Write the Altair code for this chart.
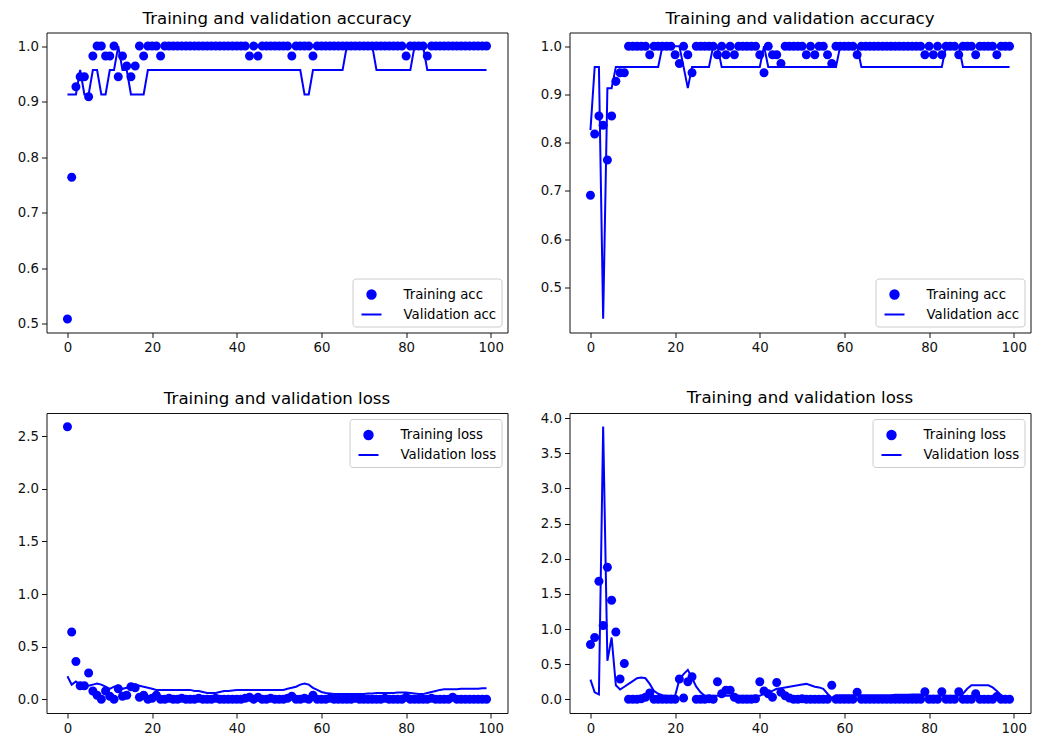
import altair as alt
import pandas as pd

EPOCHS = list(range(100))

TL_TRAIN = [0.509, 0.764, 0.927, 0.945, 0.945, 0.909, 0.982, 1, 1, 0.982,
            0.982, 1, 0.945, 0.982, 0.964, 0.945, 0.964, 1, 0.982, 1,
            1, 1, 0.982, 1, 1, 1, 1, 1, 1, 1,
            1, 1, 1, 1, 1, 1, 1, 1, 1, 1,
            1, 1, 1, 0.982, 1, 0.982, 1, 1, 1, 1,
            1, 1, 1, 0.982, 1, 1, 1, 1, 0.982, 1,
            1, 1, 1, 1, 1, 1, 1, 1, 1, 1,
            1, 1, 1, 1, 1, 1, 1, 1, 1, 1,
            0.982, 1, 1, 1, 1, 0.982, 1, 1, 1, 1,
            1, 1, 1, 1, 1, 1, 1, 1, 1, 1]
TL_VAL = [0.913, 0.913, 0.913, 0.957, 0.913, 0.913, 0.957, 0.957, 0.913, 0.913,
          0.957, 0.957, 1, 0.957, 0.957, 0.913, 0.913, 0.913, 0.913, 0.957,
          0.957, 0.957, 0.957, 0.957, 0.957, 0.957, 0.957, 0.957, 0.957, 0.957,
          0.957, 0.957, 0.957, 0.957, 0.957, 0.957, 0.957, 0.957, 0.957, 0.957,
          0.957, 0.957, 0.957, 0.957, 0.957, 0.957, 0.957, 0.957, 0.957, 0.957,
          0.957, 0.957, 0.957, 0.957, 0.957, 0.957, 0.913, 0.913, 0.957, 0.957,
          0.957, 0.957, 0.957, 0.957, 0.957, 0.957, 1, 1, 1, 1,
          1, 1, 1, 0.957, 0.957, 0.957, 0.957, 0.957, 0.957, 0.957,
          0.957, 0.957, 1, 1, 1, 0.957, 0.957, 0.957, 0.957, 0.957,
          0.957, 0.957, 0.957, 0.957, 0.957, 0.957, 0.957, 0.957, 0.957, 0.957]

TR_TRAIN = [0.691, 0.818, 0.855, 0.836, 0.764, 0.855, 0.927, 0.945, 0.945, 1,
            1, 1, 1, 1, 0.982, 1, 1, 1, 1, 1,
            0.982, 0.964, 1, 0.982, 0.945, 1, 1, 1, 1, 1,
            0.982, 1, 0.982, 1, 0.982, 1, 1, 1, 1, 1,
            0.982, 0.945, 1, 0.982, 0.982, 0.964, 1, 1, 1, 1,
            1, 0.982, 1, 0.982, 1, 1, 0.982, 0.964, 1, 1,
            1, 1, 1, 0.982, 1, 1, 1, 1, 1, 1,
            1, 1, 1, 1, 1, 1, 1, 1, 1, 0.982,
            1, 0.982, 1, 0.982, 1, 1, 1, 0.982, 1, 1,
            1, 0.982, 1, 1, 1, 1, 0.982, 1, 1, 1]
TR_VAL = [0.826, 0.957, 0.957, 0.435, 0.913, 0.913, 0.957, 0.957, 0.957, 0.957,
          0.957, 0.957, 0.957, 0.957, 0.957, 0.957, 0.957, 1, 1, 1,
          1, 1, 0.957, 0.913, 0.957, 0.957, 0.957, 0.957, 0.957, 1,
          1, 0.957, 0.957, 0.957, 0.957, 0.957, 0.957, 0.957, 0.957, 0.957,
          0.957, 1, 0.957, 0.957, 0.957, 0.957, 0.957, 0.957, 0.957, 0.957,
          0.957, 0.957, 0.957, 0.957, 0.957, 0.957, 0.957, 0.957, 0.957, 1,
          1, 1, 1, 1, 0.957, 0.957, 0.957, 0.957, 0.957, 0.957,
          0.957, 0.957, 0.957, 0.957, 0.957, 0.957, 0.957, 0.957, 0.957, 0.957,
          0.957, 0.957, 0.957, 0.957, 1, 1, 1, 1, 0.957, 0.957,
          0.957, 0.957, 0.957, 0.957, 0.957, 0.957, 0.957, 0.957, 0.957, 0.957]

BL_TRAIN = [2.59, 0.64, 0.36, 0.13, 0.13, 0.25, 0.08, 0.04, 0.0, 0.08,
            0.03, 0.0, 0.10, 0.03, 0.04, 0.12, 0.11, 0.02, 0.04, 0.0,
            0.01, 0.04, 0.0, 0.0, 0.01, 0.0, 0.0, 0.01, 0.0, 0.0,
            0.0, 0.01, 0.0, 0.0, 0.0, 0.01, 0.0, 0.0, 0.0, 0.0,
            0.0, 0.0, 0.01, 0.02, 0.0, 0.02, 0.0, 0.0, 0.01, 0.0,
            0.0, 0.0, 0.01, 0.03, 0.0, 0.0, 0.01, 0.0, 0.04, 0.0,
            0.0, 0.0, 0.01, 0.0, 0.0, 0.0, 0.0, 0.0, 0.01, 0.0,
            0.0, 0.0, 0.0, 0.0, 0.0, 0.01, 0.0, 0.0, 0.0, 0.0,
            0.02, 0.0, 0.0, 0.0, 0.0, 0.0, 0.01, 0.0, 0.0, 0.0,
            0.0, 0.02, 0.0, 0.0, 0.0, 0.0, 0.0, 0.0, 0.0, 0.0]
BL_VAL = [0.22, 0.14, 0.17, 0.14, 0.13, 0.13, 0.14, 0.15, 0.14, 0.12,
          0.10, 0.12, 0.13, 0.10, 0.11, 0.14, 0.14, 0.13, 0.12, 0.11,
          0.10, 0.09, 0.09, 0.09, 0.09, 0.09, 0.09, 0.09, 0.09, 0.09,
          0.08, 0.08, 0.07, 0.06, 0.06, 0.06, 0.07, 0.08, 0.08, 0.085,
          0.09, 0.09, 0.09, 0.09, 0.09, 0.09, 0.09, 0.09, 0.09, 0.09,
          0.09, 0.09, 0.10, 0.11, 0.12, 0.14, 0.15, 0.14, 0.11, 0.09,
          0.07, 0.06, 0.055, 0.05, 0.05, 0.05, 0.05, 0.05, 0.05, 0.05,
          0.05, 0.055, 0.055, 0.06, 0.06, 0.06, 0.06, 0.06, 0.065, 0.065,
          0.065, 0.06, 0.055, 0.05, 0.05, 0.06, 0.07, 0.08, 0.09, 0.095,
          0.095, 0.095, 0.095, 0.10, 0.10, 0.10, 0.10, 0.10, 0.105, 0.105]

BR_TRAIN = [0.78, 0.88, 1.68, 1.05, 1.88, 1.41, 0.96, 0.29, 0.51, 0.0,
            0.0, 0.0, 0.01, 0.03, 0.09, 0.0, 0.0, 0.0, 0.0, 0.0,
            0.0, 0.29, 0.02, 0.25, 0.32, 0.0, 0.0, 0.0, 0.01, 0.0,
            0.25, 0.08, 0.13, 0.13, 0.03, 0.0, 0.0, 0.0, 0.0, 0.01,
            0.25, 0.12, 0.08, 0.03, 0.24, 0.10, 0.05, 0.02, 0.0, 0.0,
            0.01, 0.0, 0.0, 0.0, 0.0, 0.0, 0.0, 0.20, 0.0, 0.0,
            0.0, 0.0, 0.0, 0.10, 0.0, 0.0, 0.0, 0.0, 0.0, 0.0,
            0.0, 0.0, 0.0, 0.0, 0.0, 0.0, 0.0, 0.0, 0.0, 0.11,
            0.0, 0.0, 0.0, 0.11, 0.0, 0.0, 0.0, 0.11, 0.0, 0.0,
            0.0, 0.08, 0.0, 0.0, 0.0, 0.0, 0.04, 0.0, 0.0, 0.0]
BR_VAL = [0.28, 0.10, 0.07, 3.88, 0.55, 0.88, 0.20, 0.14, 0.18, 0.22,
          0.26, 0.30, 0.31, 0.30, 0.22, 0.12, 0.08, 0.06, 0.05, 0.05,
          0.05, 0.28, 0.36, 0.42, 0.30, 0.18, 0.10, 0.05, 0.05, 0.05,
          0.05, 0.05, 0.05, 0.05, 0.05, 0.05, 0.05, 0.05, 0.05, 0.05,
          0.05, 0.08, 0.10, 0.12, 0.15, 0.16, 0.17, 0.18, 0.19, 0.20,
          0.21, 0.22, 0.20, 0.18, 0.17, 0.15, 0.08, 0.02, 0.06, 0.06,
          0.06, 0.06, 0.06, 0.06, 0.06, 0.06, 0.06, 0.06, 0.06, 0.06,
          0.06, 0.06, 0.065, 0.065, 0.065, 0.065, 0.07, 0.07, 0.07, 0.05,
          0.05, 0.05, 0.05, 0.05, 0.05, 0.05, 0.05, 0.05, 0.08, 0.15,
          0.20, 0.20, 0.20, 0.20, 0.20, 0.17, 0.12, 0.06, 0.03, 0.02]

ACC_NAMES = ["Training acc", "Validation acc"]
LOSS_NAMES = ["Training loss", "Validation loss"]
ACC_TITLE = "Training and validation accuracy"
LOSS_TITLE = "Training and validation loss"
X_TICKS = [0, 20, 40, 60, 80, 100]

BLUE = "#0000ff"
FONT = "DejaVu Sans"
CIRCLE = "M-0.42,0A0.42,0.42,0,1,1,0.42,0A0.42,0.42,0,1,1,-0.42,0Z"
W, H = 461, 300


def panel(train, val, title, names, ydomain, yticks, orient):
    df = pd.DataFrame({
        "epoch": EPOCHS + EPOCHS,
        "value": train + val,
        "series": [names[0]] * len(train) + [names[1]] * len(val),
    })
    leg = alt.Legend(
        title=None, orient=orient, offset=6, padding=5,
        strokeColor="#cccccc", fillColor="white", cornerRadius=3,
        symbolSize=400, symbolStrokeWidth=2, symbolStrokeColor=BLUE,
        symbolFillColor=BLUE, symbolOffset=3, labelFont=FONT, labelFontSize=13.3,
        labelColor="black", labelOffset=21, rowPadding=0,
    )
    color = alt.Color("series:N", scale=alt.Scale(domain=names, range=[BLUE, BLUE]), legend=leg)
    shape = alt.Shape("series:N", scale=alt.Scale(domain=names, range=[CIRCLE, "stroke"]), legend=leg)
    x = alt.X("epoch:Q",
              scale=alt.Scale(domain=[-4.95, 103.95], nice=False, zero=False),
              axis=alt.Axis(values=X_TICKS, title=None, format="d"))
    y = alt.Y("value:Q",
              scale=alt.Scale(domain=ydomain, nice=False, zero=False),
              axis=alt.Axis(values=yticks, title=None, format=".1f"))
    base = alt.Chart(df)
    pts = base.transform_filter(alt.datum.series == names[0]).mark_point(
        filled=True, size=460, opacity=1).encode(x=x, y=y, color=color, shape=shape)
    line = base.transform_filter(alt.datum.series == names[1]).mark_line(
        strokeWidth=2).encode(x=x, y=y, color=color)
    return alt.layer(pts, line).properties(width=W, height=H, title=title)


tl = panel(TL_TRAIN, TL_VAL, ACC_TITLE, ACC_NAMES, [0.4845, 1.0245],
           [0.5, 0.6, 0.7, 0.8, 0.9, 1.0], "bottom-right")
tr = panel(TR_TRAIN, TR_VAL, ACC_TITLE, ACC_NAMES, [0.4065, 1.0283],
           [0.5, 0.6, 0.7, 0.8, 0.9, 1.0], "bottom-right")
bl = panel(BL_TRAIN, BL_VAL, LOSS_TITLE, LOSS_NAMES, [-0.1295, 2.7195],
           [0.0, 0.5, 1.0, 1.5, 2.0, 2.5], "top-right")
br = panel(BR_TRAIN, BR_VAL, LOSS_TITLE, LOSS_NAMES, [-0.194, 4.074],
           [0.0, 0.5, 1.0, 1.5, 2.0, 2.5, 3.0, 3.5, 4.0], "top-right")

row1 = alt.hconcat(tl, tr, spacing=28).resolve_scale(color="independent", shape="independent")
row2 = alt.hconcat(bl, br, spacing=28).resolve_scale(color="independent", shape="independent")

chart = alt.vconcat(row1, row2, spacing=34.5).resolve_scale(
    color="independent", shape="independent"
).configure_view(
    stroke="#111111", strokeWidth=1
).configure_axis(
    grid=False, domain=False, tickColor="#111111", tickSize=5, tickWidth=1,
    labelFont=FONT, labelFontSize=13.3, labelColor="#111111", labelPadding=3,
).configure_axisY(
    minExtent=32, maxExtent=32
).configure_axisX(
    minExtent=20, maxExtent=20
).configure_title(
    font=FONT, fontSize=16.6, fontWeight="normal", color="black", offset=5
).properties(
    padding={"left": 5.5, "top": 1.5, "right": 0, "bottom": 0}
)

chart.save("out.html", embed_options={"renderer": "svg", "actions": False})
